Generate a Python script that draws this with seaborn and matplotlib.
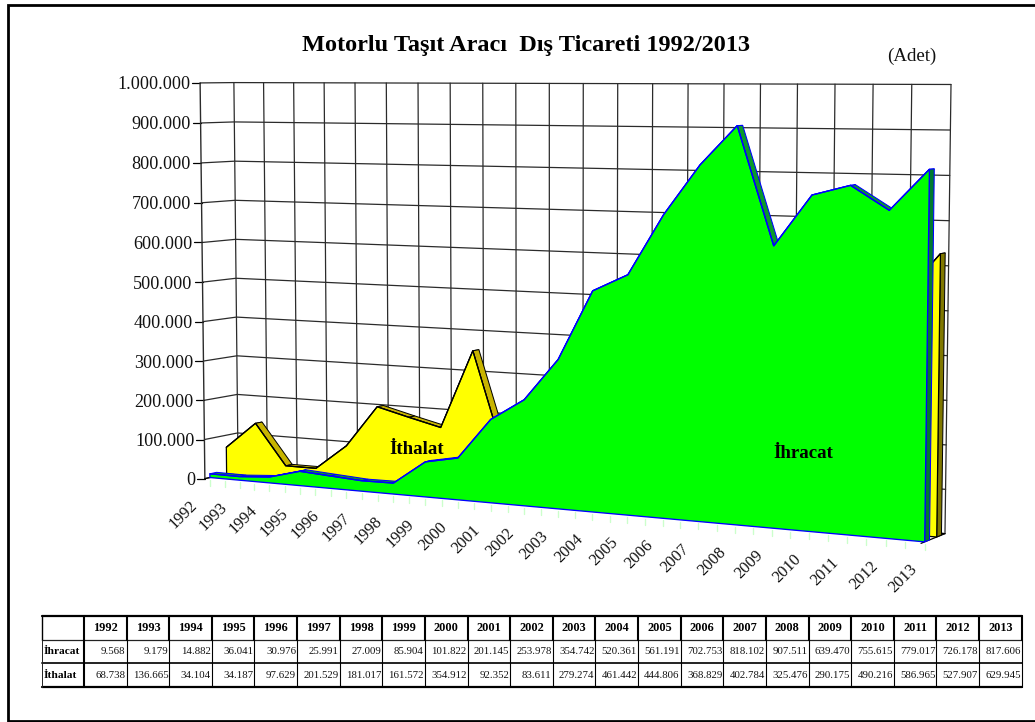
import numpy as np
import pandas as pd
import matplotlib
matplotlib.use("Agg")
import matplotlib.pyplot as plt
import seaborn as sns

years = [1992, 1993, 1994, 1995, 1996, 1997, 1998, 1999, 2000, 2001, 2002,
         2003, 2004, 2005, 2006, 2007, 2008, 2009, 2010, 2011, 2012, 2013]
ihracat = [9568, 9179, 14882, 36041, 30976, 25991, 27009, 85904, 101822, 201145, 253978,
           354742, 520361, 561191, 702753, 818102, 907511, 639470, 755615, 779017, 726178, 817606]
ithalat = [68738, 136665, 34104, 34187, 97629, 201529, 181017, 161572, 354912, 92352, 83611,
           279274, 461442, 444806, 368829, 402784, 325476, 290175, 490216, 586965, 527907, 629945]
y_ticks = list(range(0, 1000001, 100000))
title = "Motorlu Taşıt Aracı  Dış Ticareti 1992/2013"
unit = "(Adet)"
row_names = ["İhracat", "İthalat"]

sns.set_theme(style="white")
plt.rcParams["font.family"] = ["Liberation Serif", "DejaVu Serif"]

W, H = 1035, 722
fig = plt.figure(figsize=(W / 100, H / 100), dpi=100)
ax = fig.add_axes([0, 0, 1, 1])
ax.set_xlim(0, W)
ax.set_ylim(H, 0)
ax.axis("off")


def tf(label):
    return f"{label:,}".replace(",", ".")


# camera calibrated on the chart box corners: (category, value, depth) -> pixel
N = len(years) - 1
box_world = [(0, 0, 0), (0, 1e6, 0), (0, 0, 1), (0, 1e6, 1), (N, 0, 1), (N, 1e6, 1), (N, 0, 0)]
box_pixel = [(205, 478), (200, 83), (238, 472), (234, 82.5), (945, 533), (951, 84.5), (921, 544)]
rows, rhs = [], []
for (i, v, d), (px, py) in zip(box_world, box_pixel):
    a, b, c = i / N, v / 1e6, d
    rows.append([a, b, c, 1, 0, 0, 0, 0, -px * a, -px * b, -px * c])
    rhs.append(px)
    rows.append([0, 0, 0, 0, a, b, c, 1, -py * a, -py * b, -py * c])
    rhs.append(py)
cam = np.append(np.linalg.lstsq(np.array(rows), np.array(rhs), rcond=None)[0], 1).reshape(3, 4)


def proj(i, v, d):
    i, v, d = np.broadcast_arrays(np.asarray(i, float), np.asarray(v, float), np.asarray(d, float))
    p = cam @ np.stack([i / N, v / 1e6, d, np.ones_like(i)])
    return p[0] / p[2], p[1] / p[2]


# walls and grid
GRID = "#2b2b2b"
idx = np.arange(N + 1)
for v in y_ticks:
    x, y = proj([0, 0, N], [v, v, v], [0, 1, 1])
    ax.plot(x, y, color=GRID, lw=0.9, zorder=1)
    x0, y0 = proj(0, v, 0)
    ax.plot([x0 - 8, x0], [y0, y0], color="black", lw=0.9, zorder=1)
    ax.text(x0 - 10, y0 + 2, tf(v), ha="right", va="center", fontsize=13.1, color="#111111")
for i in idx:
    x, y = proj([i, i], [0, 1e6], [1, 1])
    ax.plot(x, y, color=GRID, lw=0.9, zorder=1)
x, y = proj([0, 0], [0, 1e6], [0, 0])
ax.plot(x, y, color=GRID, lw=1.0, zorder=1)
x, y = proj([N, N, 0, 0], [0, 0, 0, 0], [0, 1, 1, 0])
ax.plot(x, y, color="black", lw=0.9, zorder=1)


def draw_series(values, d0, d1, face, top, cap, edge, lw, z):
    vals = np.array(values, float)
    for a in range(N):
        qx, qy = proj([a, a + 1, a + 1, a], [vals[a], vals[a + 1], vals[a + 1], vals[a]], [d0, d0, d1, d1])
        ax.fill(qx, qy, facecolor=top, edgecolor=edge, lw=lw * 0.8, zorder=z)
    qx, qy = proj([N, N, N, N], [0, vals[-1], vals[-1], 0], [d0, d0, d1, d1])
    ax.fill(qx, qy, facecolor=cap, edgecolor=edge, lw=lw * 0.8, zorder=z + 0.1)
    fx, fy = proj(np.r_[0, idx, N], np.r_[0, vals, 0], d0)
    ax.fill(fx, fy, facecolor=face, edgecolor=edge, lw=lw, zorder=z + 0.2)
    lx, ly = proj(idx, vals, d0)
    sns.lineplot(data=pd.DataFrame({"x": lx, "y": ly}), x="x", y="y", sort=False, estimator=None,
                 color=edge, lw=lw, ax=ax, zorder=z + 0.3, legend=False)


draw_series(ithalat, 0.65, 0.85, "#FFFF00", "#C8B400", "#807800", "#000000", 0.9, 2)
draw_series(ihracat, 0.15, 0.35, "#00FF00", "#0A9A2A", "#007A30", "#0000FF", 0.95, 3)
ax.set_xlim(0, W)
ax.set_ylim(H, 0)
ax.set_xlabel("")
ax.set_ylabel("")

# bottom ticks and year labels
for t in np.arange(0, N + 0.1, 0.5):
    x, y = proj(t, 0, 0.15)
    ax.plot([x, x], [y + 2, y + 8], color="#CCFFCC", lw=1.0, zorder=1)
for i, yr in zip(idx, years):
    x, y = proj(i, 0, 0.15)
    ax.text(x - 15 + 5 * i / N, y + 25, str(yr), rotation=45, rotation_mode="anchor", ha="right", va="center",
            fontsize=11.8, color="#111111")

# texts
ax.text(526.5, 46, title, ha="center", va="center", fontsize=17.5, fontweight="bold", color="black")
ax.text(912, 56, unit, ha="center", va="center", fontsize=13.6, color="#111111")
ax.text(417, 450, "İthalat", ha="center", va="center", fontsize=13.6, fontweight="bold", color="black", zorder=6)
ax.text(803, 454, "İhracat", ha="center", va="center", fontsize=13.6, fontweight="bold", color="black", zorder=6)

# data table
tx0, tx1, tx2 = 41.7, 84.0, 1021.7
ty = [616, 640, 663, 687]
cw = (tx2 - tx1) / len(years)
ax.plot([tx0, tx2], [ty[0], ty[0]], color="black", lw=1.6, zorder=5)
ax.plot([tx0, tx2], [ty[1], ty[1]], color="#222222", lw=0.9, zorder=5)
ax.plot([tx0, tx2], [ty[2], ty[2]], color="#222222", lw=1.4, zorder=5)
ax.plot([tx0, tx2], [ty[3], ty[3]], color="black", lw=1.6, zorder=5)
ax.plot([tx0, tx0], [ty[0], ty[1]], color="black", lw=1.0, zorder=5)
ax.plot([tx0, tx0], [ty[1], ty[3]], color="#222222", lw=0.7, zorder=5)
for k in range(len(years) + 1):
    xe = tx1 + k * cw
    ax.plot([xe, xe], [ty[0], ty[1]], color="black", lw=1.5, zorder=5)
    ax.plot([xe, xe], [ty[1], ty[3]], color="black", lw=0.8 if k else 1.5, zorder=5)
    if k < len(years):
        ax.text(xe + cw / 2, (ty[0] + ty[1]) / 2, str(years[k]), ha="center", va="center",
                fontsize=8.8, fontweight="bold", color="black")
        ax.text(xe + cw - 1, (ty[1] + ty[2]) / 2, tf(ihracat[k]), ha="right", va="center", fontsize=7.8, color="#111111")
        ax.text(xe + cw - 1, (ty[2] + ty[3]) / 2, tf(ithalat[k]), ha="right", va="center", fontsize=7.8, color="#111111")
for name, r in zip(row_names, (0, 1)):
    ax.text(tx0 + 2, (ty[r + 1] + ty[r + 2]) / 2, name, ha="left", va="center", fontsize=8.2, fontweight="bold", color="black")

# outer frame
ax.plot([W, 7.8, 7.8, W], [4.6, 4.6, 721, 721], color="black", lw=2.0, solid_joinstyle="miter", zorder=5)

fig.savefig("out.png", dpi=100, facecolor="white")
